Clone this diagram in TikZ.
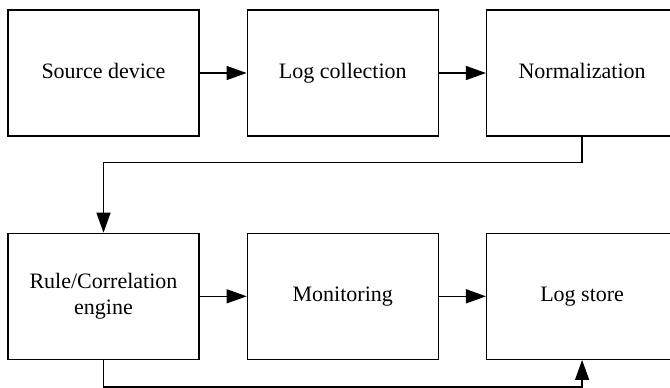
\documentclass[tikz,border=0pt]{standalone}
\usepackage{fontspec}
\setmainfont{Liberation Serif}
\usetikzlibrary{positioning,arrows.meta}

\begin{document}
\begin{tikzpicture}[x=0.5pt,y=-0.5pt,
  stage/.style={draw,line width=0.65pt,minimum width=95.5pt,minimum height=63pt,
    inner sep=2pt,align=center,text height=1.55ex,text depth=.45ex,
    font=\fontsize{11}{13}\selectfont},
  flow/.style={line width=0.65pt,-{Triangle[length=10pt,width=7pt]}}]

% page frame (the last column runs past the right edge)
\useasboundingbox (0,0) rectangle (670,387);
\clip (0,0) rectangle (670,387);

% top row
\node[stage] (src) at (103.5,73) {Source device};
\node[stage,right=23.5pt of src] (coll) {Log collection};
\node[stage,right=23.5pt of coll] (norm) {Normalization};

% bottom row
\node[stage,below=48pt of src,text height=,text depth=] (rule) {Rule/Correlation\\engine};
\node[stage,right=23.5pt of rule] (mon) {Monitoring};
\node[stage,right=23.5pt of mon] (store) {Log store};

% connectors
\draw[flow] (src) -- (coll);
\draw[flow] (coll) -- (norm);
\draw[flow] (norm.south) -- ++(0,26) -| (rule.north);
\draw[flow] (rule) -- (mon);
\draw[flow] (mon) -- (store);
\draw[flow] (rule.south) -- ++(0,27) -| (store.south);

\end{tikzpicture}
\end{document}
